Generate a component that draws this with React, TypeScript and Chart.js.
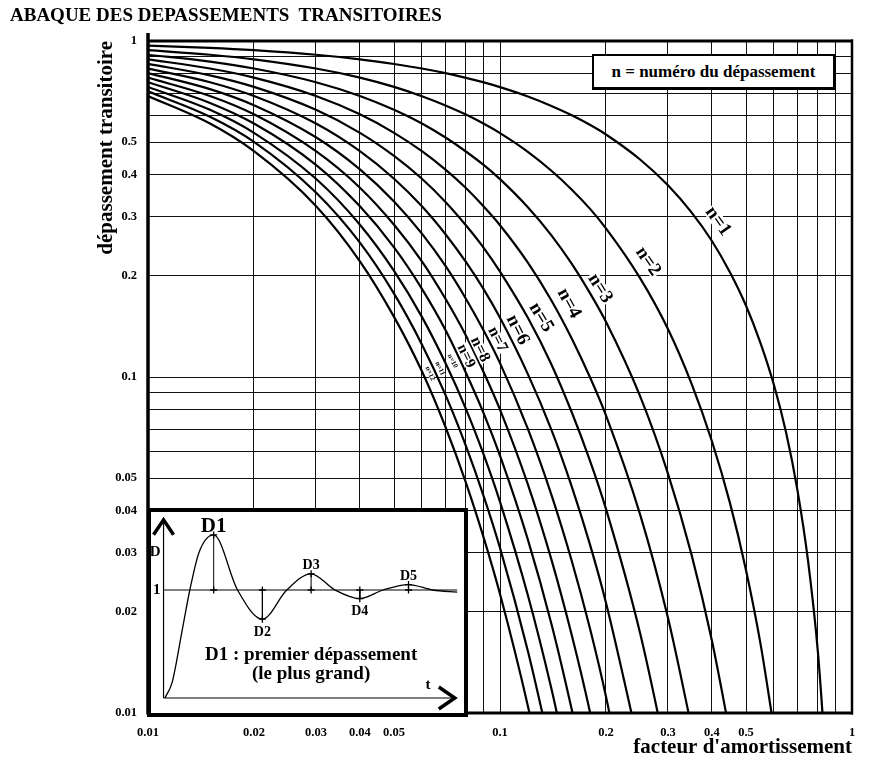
import React, { useEffect, useRef } from 'react';
import { Chart, registerables } from 'chart.js';

Chart.register(...registerables);

// ---------- main chart data (read from the abacus) ----------
const zeta = [0.01, 0.015, 0.02, 0.03, 0.04, 0.05, 0.06, 0.07, 0.08, 0.09, 0.1, 0.12, 0.14, 0.16, 0.18, 0.2, 0.25, 0.3, 0.35, 0.4, 0.45, 0.5, 0.55, 0.6, 0.65, 0.7, 0.75, 0.8, 0.85];

const n1 = [0.969, 0.954, 0.939, 0.910, 0.882, 0.854, 0.828, 0.802, 0.777, 0.753, 0.729, 0.684, 0.641, 0.601, 0.563, 0.527, 0.444, 0.372, 0.309, 0.254, 0.205, 0.163, 0.126, 0.0948, 0.0682, 0.0460, 0.0284, 0.0152, 0.0063];
const n2 = [0.939, 0.910, 0.882, 0.828, 0.778, 0.730, 0.685, 0.643, 0.604, 0.567, 0.532, 0.468, 0.411, 0.361, 0.317, 0.277, 0.197, 0.139, 0.0956, 0.0644, 0.0422, 0.0266, 0.0160, 0.0090];
const n3 = [0.910, 0.868, 0.828, 0.754, 0.686, 0.624, 0.568, 0.516, 0.469, 0.427, 0.388, 0.320, 0.264, 0.217, 0.178, 0.146, 0.0877, 0.0516, 0.0296, 0.0164, 0.0087];
const n4 = [0.882, 0.828, 0.778, 0.686, 0.605, 0.533, 0.470, 0.414, 0.365, 0.321, 0.283, 0.219, 0.169, 0.130, 0.100, 0.0769, 0.0390, 0.0192, 0.0091];
const n5 = [0.855, 0.790, 0.730, 0.624, 0.533, 0.455, 0.389, 0.332, 0.283, 0.242, 0.206, 0.150, 0.109, 0.0784, 0.0565, 0.0405, 0.0173, 0.0072];
const n6 = [0.828, 0.754, 0.686, 0.568, 0.470, 0.389, 0.322, 0.266, 0.220, 0.182, 0.150, 0.102, 0.0696, 0.0471, 0.0318, 0.0213, 0.0077];
const n7 = [0.803, 0.719, 0.644, 0.517, 0.415, 0.333, 0.267, 0.214, 0.171, 0.137, 0.110, 0.0701, 0.0446, 0.0283, 0.0179, 0.0112, 0.0034];
const n8 = [0.778, 0.686, 0.605, 0.470, 0.366, 0.284, 0.221, 0.171, 0.133, 0.103, 0.0800, 0.0479, 0.0286, 0.0170, 0.0101, 0.0059];
const n9 = [0.754, 0.654, 0.568, 0.428, 0.322, 0.243, 0.183, 0.138, 0.103, 0.0777, 0.0583, 0.0328, 0.0184, 0.0102, 0.0057];
const n10 = [0.730, 0.624, 0.533, 0.389, 0.284, 0.207, 0.151, 0.110, 0.0804, 0.0585, 0.0425, 0.0224, 0.0118, 0.0062];
const n11 = [0.708, 0.595, 0.501, 0.354, 0.251, 0.177, 0.125, 0.0885, 0.0624, 0.0440, 0.0310, 0.0153, 0.0076];
const n12 = [0.686, 0.568, 0.470, 0.323, 0.221, 0.151, 0.104, 0.0710, 0.0485, 0.0331, 0.0226, 0.0105, 0.0049];

const overshootSeries = [n1, n2, n3, n4, n5, n6, n7, n8, n9, n10, n11, n12];
const seriesNames = ['n=1', 'n=2', 'n=3', 'n=4', 'n=5', 'n=6', 'n=7', 'n=8', 'n=9', 'n=10', 'n=11', 'n=12'];

// label anchors, in data coordinates (ζ, D)
const labelZeta = [0.4163, 0.2634, 0.1923, 0.157, 0.1308, 0.1121, 0.0984, 0.0877, 0.0801, 0.0733, 0.0675, 0.0633];
const labelD = [0.2907, 0.2209, 0.1835, 0.1656, 0.1504, 0.138, 0.1293, 0.1208, 0.1155, 0.1116, 0.106, 0.1024];
const labelFontSizes = [19, 19, 19, 19, 19, 19, 16, 16, 15, 7, 7, 7];

const gridValues = [0.01, 0.02, 0.03, 0.04, 0.05, 0.06, 0.07, 0.08, 0.09, 0.1, 0.2, 0.3, 0.4, 0.5, 0.6, 0.7, 0.8, 0.9, 1];
const xTickLabels = [0.01, 0.02, 0.03, 0.04, 0.05, 0.1, 0.2, 0.3, 0.4, 0.5, 1];
const yTickLabels = [0.01, 0.02, 0.03, 0.04, 0.05, 0.1, 0.2, 0.3, 0.4, 0.5, 1];

// ---------- inset (step response sketch) ----------
const stepT = [0, 0.15, 0.35, 0.51, 0.7, 1.0, 1.49, 2.0, 2.5, 3.0, 3.49, 4.0, 4.48, 5.0, 5.5, 6.0];
const stepD = [0, 0.15, 0.62, 1.0, 1.35, 1.51, 1.0, 0.73, 1.0, 1.15, 1.0, 0.92, 1.0, 1.05, 1.0, 0.98];
const peakT = [1, 2, 3, 4, 5];
const peakD = [1.51, 0.73, 1.15, 0.92, 1.05];
const peakNames = ['D1', 'D2', 'D3', 'D4', 'D5'];

const SERIF = '"Liberation Serif", "Times New Roman", serif';

const framePlugin = {
  id: 'frame',
  afterDraw(chart: any) {
    const { ctx, chartArea } = chart;
    const { left, right, top, bottom } = chartArea;
    ctx.save();
    ctx.strokeStyle = '#000';
    ctx.lineCap = 'butt';
    ctx.lineWidth = 3.5;
    ctx.beginPath(); ctx.moveTo(left, top - 8); ctx.lineTo(left, bottom + 1.5); ctx.stroke();
    ctx.lineWidth = 3;
    ctx.beginPath(); ctx.moveTo(left, top); ctx.lineTo(right + 1, top); ctx.stroke();
    ctx.beginPath(); ctx.moveTo(left, bottom); ctx.lineTo(right + 1, bottom); ctx.stroke();
    ctx.lineWidth = 2.5;
    ctx.beginPath(); ctx.moveTo(right, top - 1.5); ctx.lineTo(right, bottom + 1.5); ctx.stroke();
    ctx.restore();
  },
};

const curveLabelPlugin = {
  id: 'curveLabels',
  afterDatasetsDraw(chart: any) {
    const { ctx } = chart;
    const xs = chart.scales.x;
    const ys = chart.scales.y;
    ctx.save();
    for (let i = 0; i < seriesNames.length; i++) {
      const px = xs.getPixelForValue(labelZeta[i]);
      const py = ys.getPixelForValue(labelD[i]);
      const pts = chart.getDatasetMeta(i).data;
      let angle = Math.PI / 3;
      for (let k = 0; k < pts.length - 1; k++) {
        if (pts[k].y <= py && pts[k + 1].y >= py) {
          angle = Math.atan2(pts[k + 1].y - pts[k].y, pts[k + 1].x - pts[k].x);
          break;
        }
      }
      const fs = labelFontSizes[i];
      ctx.font = `bold ${fs}px ${SERIF}`;
      const w = ctx.measureText(seriesNames[i]).width;
      ctx.translate(px, py);
      ctx.rotate(angle);
      ctx.fillStyle = '#fff';
      ctx.fillRect(-w / 2 - 1, -fs * 0.36, w + 2, fs * 0.72);
      ctx.fillStyle = '#000';
      ctx.textAlign = 'center';
      ctx.textBaseline = 'middle';
      ctx.fillText(seriesNames[i], 0, 0);
      ctx.setTransform(1, 0, 0, 1, 0, 0);
    }
    ctx.restore();
  },
};

const insetPlugin = {
  id: 'insetDecor',
  afterDraw(chart: any) {
    const { ctx } = chart;
    const xs = chart.scales.x;
    const ys = chart.scales.y;
    const X = (v: number) => xs.getPixelForValue(v);
    const Y = (v: number) => ys.getPixelForValue(v);
    ctx.save();
    ctx.strokeStyle = '#000';
    ctx.fillStyle = '#000';
    // axes
    const ox = X(-0.03);
    const oy = Y(0);
    const topY = Y(1.65);
    const rightX = X(5.95);
    ctx.lineWidth = 1.2;
    ctx.beginPath(); ctx.moveTo(ox, oy); ctx.lineTo(ox, topY + 2); ctx.stroke();
    ctx.beginPath(); ctx.moveTo(ox, oy); ctx.lineTo(rightX - 2, oy); ctx.stroke();
    ctx.lineWidth = 3.5;
    ctx.lineJoin = 'miter';
    ctx.beginPath(); ctx.moveTo(ox - 10, topY + 15); ctx.lineTo(ox, topY); ctx.lineTo(ox + 10, topY + 15); ctx.stroke();
    ctx.beginPath(); ctx.moveTo(rightX - 16, oy - 11); ctx.lineTo(rightX, oy); ctx.lineTo(rightX - 16, oy + 11); ctx.stroke();
    // axis letters
    ctx.textBaseline = 'middle';
    ctx.font = `bold 15px ${SERIF}`;
    ctx.textAlign = 'right';
    ctx.fillText('D', ox - 3, Y(1.35));
    ctx.fillText('1', ox - 3, Y(1.0));
    ctx.textAlign = 'center';
    ctx.fillText('t', X(5.4), Y(0.12));
    // peak names
    for (let k = 0; k < peakNames.length; k++) {
      const above = peakD[k] > 1;
      const fs = k === 0 ? 21 : 14;
      ctx.font = `bold ${fs}px ${SERIF}`;
      ctx.textAlign = 'center';
      if (above) {
        ctx.textBaseline = 'alphabetic';
        ctx.fillText(peakNames[k], X(peakT[k]), Y(peakD[k]) - (k === 0 ? 3 : 5));
      } else {
        ctx.textBaseline = 'top';
        ctx.fillText(peakNames[k], X(peakT[k]), Y(peakD[k]) + 6);
      }
    }
    // caption
    ctx.font = `bold 19px ${SERIF}`;
    ctx.textAlign = 'center';
    ctx.textBaseline = 'middle';
    ctx.fillText('D1 : premier dépassement', X(3.0), Y(0.40));
    ctx.fillText('(le plus grand)', X(3.0), Y(0.22));
    ctx.restore();
  },
};

export default function App() {
  const mainRef = useRef<HTMLCanvasElement>(null);
  const insetRef = useRef<HTMLCanvasElement>(null);

  useEffect(() => {
    const tickFont = { family: SERIF, size: 12.5, weight: 'bold' as const };
    const main = new Chart(mainRef.current as HTMLCanvasElement, {
      type: 'scatter',
      data: {
        datasets: overshootSeries.map((vals, i) => ({
          label: seriesNames[i],
          data: vals.map((v, k) => ({ x: zeta[k], y: v })),
          showLine: true,
          borderColor: '#000',
          backgroundColor: '#000',
          borderWidth: 2.2,
          pointRadius: 0,
          pointHoverRadius: 0,
          cubicInterpolationMode: 'monotone' as const,
          fill: false,
        })),
      },
      options: {
        responsive: false,
        animation: false,
        events: [],
        layout: { padding: { left: 0, top: 41, right: 26, bottom: 0 } },
        plugins: { legend: { display: false }, tooltip: { enabled: false }, title: { display: false } },
        scales: {
          x: {
            type: 'logarithmic',
            min: 0.01,
            max: 1,
            afterBuildTicks: (s: any) => { s.ticks = gridValues.map((v) => ({ value: v })); },
            afterFit: (s: any) => { s.height = 54; },
            ticks: {
              autoSkip: false,
              maxRotation: 0,
              padding: 12,
              color: '#000',
              font: tickFont,
              callback: (v: any) => (xTickLabels.includes(Number(v)) ? String(Number(v)) : ''),
            },
            grid: { color: '#111', lineWidth: 1, drawTicks: false },
            border: { display: false },
            title: {
              display: true,
              text: "facteur d'amortissement",
              align: 'end',
              color: '#000',
              font: { family: SERIF, size: 21, weight: 'bold' },
              padding: { top: 0, bottom: 6.5 },
            },
          },
          y: {
            type: 'logarithmic',
            min: 0.01,
            max: 1,
            afterBuildTicks: (s: any) => { s.ticks = gridValues.map((v) => ({ value: v })); },
            afterFit: (s: any) => { s.width = 148; },
            ticks: {
              autoSkip: false,
              padding: 11,
              color: '#000',
              font: tickFont,
              callback: (v: any) => (yTickLabels.includes(Number(v)) ? String(Number(v)) : ''),
            },
            grid: { color: '#111', lineWidth: 1, drawTicks: false },
            border: { display: false },
            title: {
              display: true,
              text: 'dépassement transitoire',
              align: 'end',
              color: '#000',
              font: { family: SERIF, size: 21, weight: 'bold' },
              padding: { top: 94, bottom: 0 },
            },
          },
        },
      } as any,
      plugins: [curveLabelPlugin, framePlugin],
    });

    const inset = new Chart(insetRef.current as HTMLCanvasElement, {
      type: 'scatter',
      data: {
        datasets: [
          {
            label: 'réponse',
            data: stepT.map((t, k) => ({ x: t, y: stepD[k] })),
            showLine: true,
            borderColor: '#000',
            borderWidth: 1.3,
            pointRadius: 0,
            cubicInterpolationMode: 'monotone' as const,
            clip: false as any,
          },
          {
            label: 'niveau 1',
            data: [{ x: -0.03, y: 1 }, { x: 6.0, y: 1 }],
            showLine: true,
            borderColor: '#000',
            borderWidth: 1,
            pointRadius: 0,
            clip: false as any,
          },
          ...peakT.map((t, k) => ({
            label: peakNames[k],
            data: [{ x: t, y: 1 }, { x: t, y: peakD[k] }],
            showLine: true,
            borderColor: '#000',
            backgroundColor: '#000',
            borderWidth: 1,
            pointStyle: 'cross' as const,
            pointRadius: 3.5,
            pointBorderWidth: 1.3,
            clip: false as any,
          })),
        ],
      },
      options: {
        responsive: false,
        animation: false,
        events: [],
        layout: { padding: { left: 14, right: 6.8, top: 13.2, bottom: 15 } },
        plugins: { legend: { display: false }, tooltip: { enabled: false } },
        scales: {
          x: { type: 'linear', min: 0, max: 6, display: false },
          y: { type: 'linear', min: 0, max: 1.6, display: false },
        },
      } as any,
      plugins: [insetPlugin],
    });

    return () => {
      main.destroy();
      inset.destroy();
    };
  }, []);

  return (
    <div style={{ position: 'absolute', left: 0, top: 0, width: 878, height: 767, background: '#fff', overflow: 'hidden' }}>
      <canvas ref={mainRef} width={878} height={767} style={{ position: 'absolute', left: 0, top: 0, width: 878, height: 767 }} />
      <div
        style={{
          position: 'absolute', left: 10, top: 5, whiteSpace: 'pre', lineHeight: 1,
          fontFamily: SERIF, fontWeight: 'bold', fontSize: 19, color: '#000',
        }}
      >
        ABAQUE DES DEPASSEMENTS  TRANSITOIRES
      </div>
      <div
        style={{
          position: 'absolute', left: 592, top: 54, width: 244, height: 36, boxSizing: 'border-box',
          borderStyle: 'solid', borderColor: '#000', borderWidth: '2px 3px 3px 2px', background: '#fff',
          display: 'flex', alignItems: 'center', justifyContent: 'center',
          fontFamily: SERIF, fontWeight: 'bold', fontSize: 17, color: '#000', whiteSpace: 'nowrap',
        }}
      >
        n = numéro du dépassement
      </div>
      <div
        style={{
          position: 'absolute', left: 147, top: 508, width: 321, height: 209, boxSizing: 'border-box',
          border: '4px solid #000', background: '#fff',
        }}
      >
        <canvas ref={insetRef} width={313} height={201} style={{ display: 'block', width: 313, height: 201 }} />
      </div>
    </div>
  );
}
